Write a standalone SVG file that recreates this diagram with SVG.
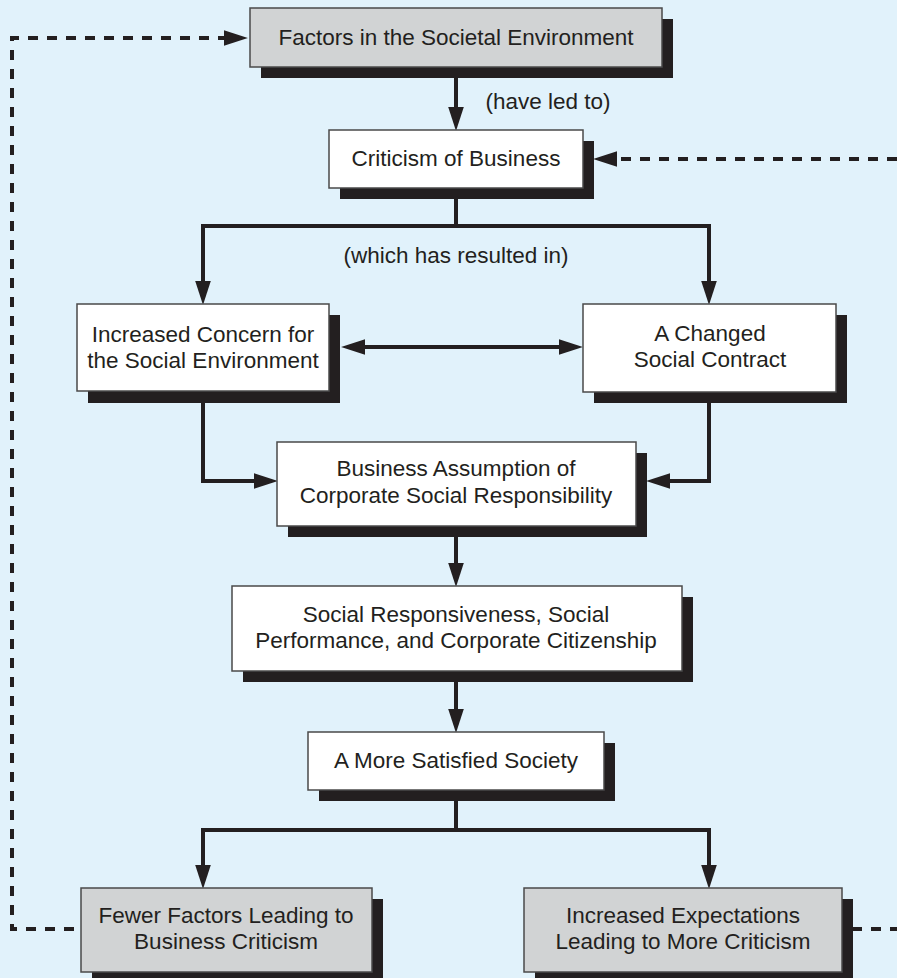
<svg xmlns="http://www.w3.org/2000/svg" width="897" height="978" viewBox="0 0 897 978">
<defs>
<style>
.bg{fill:#e1f2fb}
.sh{fill:#231f20}
.bw{fill:#ffffff;stroke:#4a4a4a;stroke-width:1.5}
.bg2{fill:#d1d3d4;stroke:#4a4a4a;stroke-width:1.5}
text{font-family:"Liberation Sans",Arial,sans-serif;font-size:22.5px;fill:#231f20;text-anchor:middle}
.c{fill:none;stroke:#231f20;stroke-width:4;stroke-linejoin:miter}
.d{fill:none;stroke:#231f20;stroke-width:4;stroke-dasharray:10 9}
</style>
<marker id="ah" markerUnits="userSpaceOnUse" markerWidth="24" markerHeight="16" viewBox="0 0 23 15" refX="2" refY="7.5" orient="auto-start-reverse">
<path d="M0,0 L23,7.5 L0,15 Z" fill="#231f20"/>
</marker>
</defs>
<rect class="bg" x="0" y="0" width="897" height="978"/>

<g id="connectors">
<path class="c" d="M456,67 V109" marker-end="url(#ah)"/>
<path class="c" d="M456,188 V226"/>
<path class="c" d="M203,283 V226 H709 V283" marker-start="url(#ah)" marker-end="url(#ah)"/>
<path class="c" d="M363,347 H561" marker-start="url(#ah)" marker-end="url(#ah)"/>
<path class="c" d="M203,391 V481 H256" marker-end="url(#ah)"/>
<path class="c" d="M709,392 V481 H668" marker-end="url(#ah)"/>
<path class="c" d="M456,526 V565" marker-end="url(#ah)"/>
<path class="c" d="M456,671 V711" marker-end="url(#ah)"/>
<path class="c" d="M456,790 V830"/>
<path class="c" d="M203,867 V830 H709 V867" marker-start="url(#ah)" marker-end="url(#ah)"/>
<path class="d" d="M81,929 H12 V38 H226" stroke-dashoffset="12" marker-end="url(#ah)"/>
<path class="d" d="M897,159 H615" marker-end="url(#ah)"/>
<path class="d" d="M852,929 H897"/>
<text x="548" y="109">(have led to)</text>
<text x="456" y="263">(which has resulted in)</text>
</g>

<g id="factors">
<rect class="sh" x="261" y="19" width="412" height="59"/>
<rect class="bg2" x="250" y="8" width="412" height="59"/>
<text x="456" y="45">Factors in the Societal Environment</text>
</g>

<g id="criticism">
<rect class="sh" x="340" y="141" width="254" height="58"/>
<rect class="bw" x="329" y="130" width="254" height="58"/>
<text x="456" y="166">Criticism of Business</text>
</g>

<g id="concern">
<rect class="sh" x="88" y="315" width="252" height="88"/>
<rect class="bw" x="77" y="304" width="252" height="87"/>
<text x="203" y="342">Increased Concern for</text>
<text x="203" y="368">the Social Environment</text>
</g>

<g id="contract">
<rect class="sh" x="594" y="315" width="253" height="88"/>
<rect class="bw" x="583" y="304" width="253" height="88"/>
<text x="710" y="341">A Changed</text>
<text x="710" y="367">Social Contract</text>
</g>

<g id="assumption">
<rect class="sh" x="288" y="453" width="359" height="84"/>
<rect class="bw" x="277" y="442" width="359" height="84"/>
<text x="456" y="476">Business Assumption of</text>
<text x="456" y="503">Corporate Social Responsibility</text>
</g>

<g id="responsiveness">
<rect class="sh" x="243" y="597" width="450" height="85"/>
<rect class="bw" x="232" y="586" width="450" height="85"/>
<text x="456" y="622">Social Responsiveness, Social</text>
<text x="456" y="648">Performance, and Corporate Citizenship</text>
</g>

<g id="satisfied">
<rect class="sh" x="319" y="743" width="296" height="58"/>
<rect class="bw" x="308" y="732" width="296" height="58"/>
<text x="456" y="768">A More Satisfied Society</text>
</g>

<g id="fewer">
<rect class="sh" x="92" y="899" width="291" height="84"/>
<rect class="bg2" x="81" y="888" width="291" height="84"/>
<text x="226" y="923">Fewer Factors Leading to</text>
<text x="226" y="949">Business Criticism</text>
</g>

<g id="expectations">
<rect class="sh" x="535" y="899" width="318" height="84"/>
<rect class="bg2" x="524" y="888" width="318" height="84"/>
<text x="683" y="923">Increased Expectations</text>
<text x="683" y="949">Leading to More Criticism</text>
</g>
</svg>
